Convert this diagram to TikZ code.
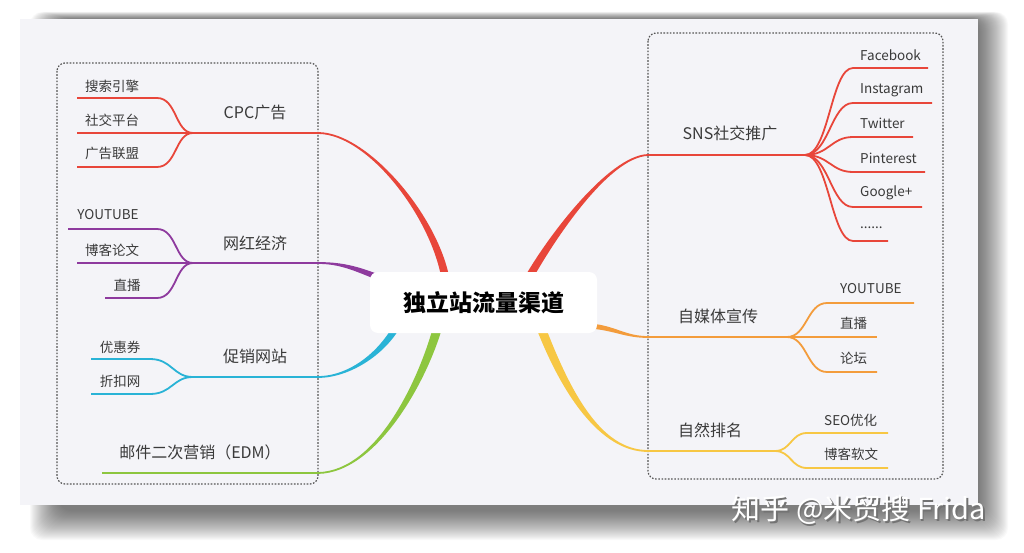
\documentclass[tikz,border=0pt]{standalone}
\usepackage{fontspec}
\setmainfont{Noto Sans CJK SC}
\usetikzlibrary{calc}
\definecolor{cred}{HTML}{E8463A}
\definecolor{cpurple}{HTML}{8E3A9E}
\definecolor{ccyan}{HTML}{29B3D6}
\definecolor{cgreen}{HTML}{8DC63F}
\definecolor{corange}{HTML}{F39C3C}
\definecolor{cyellow}{HTML}{F7C744}
\definecolor{panelc}{HTML}{F4F4F8}
\definecolor{txtc}{HTML}{3A3A3A}
\definecolor{boxc}{HTML}{555555}
% tapered branch: color, A, C1, C2, B, half width at A, half width at B
\newcommand\mytaper[7]{%
  \path ($(#2)!#6!90:(#3)$) coordinate (tA1) ($(#2)!#6!-90:(#3)$) coordinate (tA2)
        ($(#5)!#7!-90:(#4)$) coordinate (tB1) ($(#5)!#7!90:(#4)$) coordinate (tB2);
  \fill[#1] (tA1) .. controls ($(#3)+(tA1)-(#2)$) and ($(#4)+(tB1)-(#5)$) .. (tB1)
     -- (tB2) .. controls ($(#4)+(tB2)-(#5)$) and ($(#3)+(tA2)-(#2)$) .. (tA2) -- cycle;
}
\tikzset{
  thinl/.style={line width=1.8pt},
  dotbox/.style={draw=boxc, line width=1.2pt, dash pattern=on 1.6pt off 1.6pt, rounded corners=8pt},
  blbl/.style={text=txtc, font=\fontsize{16}{18}\selectfont, inner sep=0pt},
  clbl/.style={text=txtc, font=\fontsize{13.5}{15}\selectfont, inner sep=0pt},
  rlbl/.style={clbl, anchor=west},
  wmk/.style={font=\fontsize{29}{31}\selectfont, inner sep=0pt},
}
\begin{document}
\begin{tikzpicture}[x=1pt,y=-1pt]
\useasboundingbox (0,0) rectangle (1024,553);
% shadow and panel
\foreach \i in {0,...,29} {
  \fill[black, opacity=0.022, rounded corners=12pt] (30+\i,12+0.25*\i) rectangle (1008-\i,540-\i);
}
\fill[panelc] (20,19) rectangle (978,505);
% dashed groups
\draw[dotbox] (57,63) rectangle (318,484);
\draw[dotbox] (648,33) rectangle (943,479);

% ---------- coordinates ----------
\coordinate (f1) at (193,133); \coordinate (a1) at (318,133);
\coordinate (f2) at (193,263); \coordinate (a2) at (318,263);
\coordinate (f3) at (193,377); \coordinate (a3) at (318,377);
\coordinate (e4) at (102,473); \coordinate (a4) at (318,473);
\coordinate (f5) at (805,155); \coordinate (a5) at (648,155);
\coordinate (f6) at (787,337); \coordinate (a6) at (648,337);
\coordinate (f7) at (775,451); \coordinate (a7) at (648,451);

% ---------- main tapered branches ----------
\mytaper{cred}{a1}{370,133}{442,225}{447,290}{0.9pt}{4pt}
\mytaper{cpurple}{a2}{340,263}{355,268}{380,278}{0.9pt}{2.8pt}
\mytaper{ccyan}{a3}{350,377}{385,352}{400,320}{0.9pt}{3.5pt}
\mytaper{cgreen}{a4}{380,472}{428,370}{440,318}{0.9pt}{4.5pt}
\mytaper{cred}{a5}{608,156}{546,244}{522,290}{0.9pt}{4pt}
\mytaper{corange}{a6}{625,337}{615,328}{590,326}{0.9pt}{2.5pt}
\mytaper{cyellow}{a7}{600,451}{565,392}{538,320}{0.9pt}{4.5pt}

% ---------- CPC ----------
\begin{scope}[cred, thinl]
\draw (77,98) -- (157,98) .. controls +(20,0) and +(-18,0) .. (f1);
\draw (77,133) -- (a1);
\draw (77,167) -- (157,167) .. controls +(20,0) and +(-18,0) .. (f1);
\end{scope}
\node[blbl] (cpc) at (255,112) {CPC广告};
\node[clbl] (c11) at (112,86) {搜索引擎};
\node[clbl] (c12) at (112,120) {社交平台};
\node[clbl] (c13) at (112,153) {广告联盟};

% ---------- 网红经济 ----------
\begin{scope}[cpurple, thinl]
\draw (68,229) -- (157,229) .. controls +(20,0) and +(-18,0) .. (f2);
\draw (77,263) -- (a2);
\draw (105,298) -- (157,298) .. controls +(20,0) and +(-18,0) .. (f2);
\end{scope}
\node[blbl] (wh) at (255,243) {网红经济};
\node[clbl] (c21) at (108,215) {YOUTUBE};
\node[clbl] (c22) at (112,250) {博客论文};
\node[clbl] (c23) at (127,285) {直播};

% ---------- 促销网站 ----------
\begin{scope}[ccyan, thinl]
\draw (91,359) -- (150,359) .. controls +(22,0) and +(-20,0) .. (f3);
\draw (91,394) -- (150,394) .. controls +(22,0) and +(-20,0) .. (f3);
\draw (f3) -- (a3);
\end{scope}
\node[blbl] (cx) at (255,356) {促销网站};
\node[clbl] (c31) at (120,347) {优惠券};
\node[clbl] (c32) at (120,381) {折扣网};

% ---------- EDM ----------
\draw[cgreen, thinl] (e4) -- (a4);
\node[blbl] (edm) at (200,452) {邮件二次营销（EDM）};

% ---------- SNS ----------
\begin{scope}[cred, thinl]
\draw (a5) -- (f5);
\draw (f5) .. controls +(24,0) and +(-22,0) .. (853,68) -- (928,68);
\draw (f5) .. controls +(24,0) and +(-22,0) .. (853,103) -- (932,103);
\draw (f5) .. controls +(24,0) and +(-22,0) .. (853,137) -- (913,137);
\draw (f5) .. controls +(24,0) and +(-22,0) .. (853,172) -- (925,172);
\draw (f5) .. controls +(24,0) and +(-22,0) .. (853,207) -- (922,207);
\draw (f5) .. controls +(24,0) and +(-22,0) .. (853,241) -- (888,241);
\end{scope}
\node[blbl] (sns) at (730,133) {SNS社交推广};
\node[rlbl] (c51) at (860,55) {Facebook};
\node[rlbl] (c52) at (860,90) {Instagram};
\node[rlbl] (c53) at (860,123) {Twitter};
\node[rlbl] (c54) at (860,158) {Pinterest};
\node[rlbl] (c55) at (860,193) {Google+};
\node[rlbl] (c56) at (860,228) {......};

% ---------- 自媒体宣传 ----------
\begin{scope}[corange, thinl]
\draw (a6) -- (877,337);
\draw (f6) .. controls +(20,0) and +(-20,0) .. (827,303) -- (914,303);
\draw (f6) .. controls +(20,0) and +(-20,0) .. (827,372) -- (877,372);
\end{scope}
\node[blbl] (zmt) at (718,316) {自媒体宣传};
\node[rlbl] (c61) at (840,289) {YOUTUBE};
\node[rlbl] (c62) at (840,323) {直播};
\node[rlbl] (c63) at (840,358) {论坛};

% ---------- 自然排名 ----------
\begin{scope}[cyellow, thinl]
\draw (a7) -- (f7);
\draw (f7) .. controls +(16,0) and +(-16,0) .. (807,433) -- (888,433);
\draw (f7) .. controls +(16,0) and +(-16,0) .. (807,468) -- (888,468);
\end{scope}
\node[blbl] (zr) at (710,430) {自然排名};
\node[rlbl] (c71) at (824,420) {SEO优化};
\node[rlbl] (c72) at (824,454) {博客软文};

% ---------- root ----------
\node[fill=white, rounded corners=8pt, minimum width=227pt, minimum height=61pt,
      font=\fontsize{23}{25}\selectfont\bfseries, text=black] (root) at (483.5,302.5) {独立站流量渠道};

% ---------- watermark ----------
\node[wmk, text=black!55] (wm0) at (860.5,511.5) {知乎 @米贸搜 Frida};
\node[wmk, text=white] (wm) at (859,510) {知乎 @米贸搜 Frida};
\end{tikzpicture}
\end{document}
